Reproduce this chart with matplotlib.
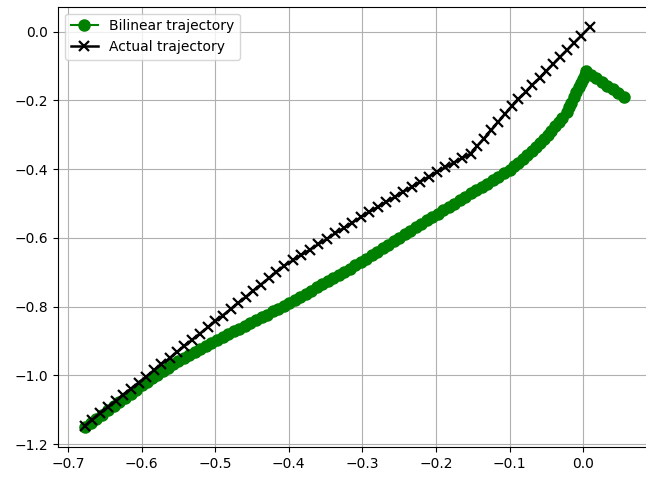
import matplotlib
matplotlib.use('Agg')
import matplotlib.pyplot as plt

# Trajectoire bilinéaire
bilinear_x = [
    -0.677, -0.669, -0.662, -0.654, -0.646, -0.638, -0.631, -0.623, -0.615, -0.608, -0.600,
    -0.593, -0.586, -0.579, -0.571, -0.564, -0.557, -0.550,
    -0.542, -0.535, -0.527, -0.520, -0.512, -0.505, -0.497, -0.490, -0.482, -0.475,
    -0.467, -0.460, -0.452, -0.445, -0.437, -0.430, -0.422, -0.415, -0.407, -0.400,
    -0.392, -0.385, -0.377, -0.370, -0.362, -0.355, -0.347, -0.340, -0.332, -0.325,
    -0.317, -0.310, -0.302, -0.295, -0.287, -0.280, -0.272, -0.265, -0.257, -0.250,
    -0.242, -0.235, -0.227, -0.220, -0.212, -0.205,
    -0.197, -0.190, -0.182, -0.175, -0.167, -0.160, -0.152, -0.145, -0.137, -0.130,
    -0.122, -0.115, -0.107, -0.100,
    -0.094, -0.088, -0.082, -0.076, -0.070, -0.064, -0.058,
    -0.053, -0.048, -0.043, -0.038, -0.033, -0.028, -0.022,
    -0.019, -0.016, -0.013, -0.010, -0.006,
    -0.003, 0.000, 0.002, 0.004,
    0.011, 0.018, 0.026, 0.033, 0.040, 0.048, 0.055,
]
bilinear_y = [
    -1.150, -1.138, -1.126, -1.115, -1.102, -1.089, -1.077, -1.065, -1.053, -1.041, -1.028,
    -1.018, -1.008, -0.998, -0.988, -0.978, -0.968, -0.958,
    -0.949, -0.941, -0.932, -0.924, -0.915, -0.906, -0.897, -0.889, -0.880, -0.872,
    -0.864, -0.856, -0.847, -0.839, -0.830, -0.823, -0.814, -0.806, -0.798, -0.790,
    -0.780, -0.772, -0.762, -0.753, -0.744, -0.735, -0.725, -0.717, -0.707, -0.698,
    -0.689, -0.680, -0.670, -0.661, -0.650, -0.641, -0.630, -0.621, -0.610, -0.600,
    -0.590, -0.580, -0.569, -0.560, -0.549, -0.540,
    -0.529, -0.520, -0.510, -0.500, -0.490, -0.481, -0.470, -0.461, -0.451, -0.442,
    -0.431, -0.422, -0.412, -0.403,
    -0.392, -0.381, -0.370, -0.358, -0.347, -0.336, -0.325,
    -0.313, -0.300, -0.288, -0.275, -0.262, -0.250, -0.234,
    -0.220, -0.206, -0.191, -0.176, -0.161,
    -0.148, -0.137, -0.126, -0.115,
    -0.126, -0.136, -0.147, -0.158, -0.168, -0.179, -0.190,
]

# Trajectoire réelle
actual_x = [
    -0.677, -0.667, -0.656, -0.646, -0.635, -0.625, -0.615, -0.604, -0.594, -0.583,
    -0.573, -0.562, -0.552, -0.542, -0.531, -0.521, -0.510, -0.500, -0.490, -0.479,
    -0.469, -0.458, -0.448, -0.438, -0.427, -0.417,
    -0.406, -0.394, -0.383, -0.371, -0.360, -0.348, -0.337, -0.325, -0.314, -0.302,
    -0.291, -0.279, -0.268, -0.256, -0.245, -0.233, -0.222, -0.210, -0.199, -0.187,
    -0.176, -0.164, -0.153,
    -0.144, -0.135, -0.125, -0.116, -0.106, -0.097, -0.088, -0.078, -0.069, -0.059,
    -0.050, -0.041, -0.031, -0.022, -0.013, -0.003, 0.0095,
]
actual_y = [
    -1.146, -1.129, -1.110, -1.093, -1.074, -1.057, -1.040, -1.021, -1.004, -0.985,
    -0.968, -0.950, -0.932, -0.915, -0.896, -0.879, -0.860, -0.843, -0.826, -0.807,
    -0.790, -0.771, -0.753, -0.736, -0.717, -0.700,
    -0.681, -0.665, -0.650, -0.634, -0.619, -0.603, -0.587, -0.571, -0.556, -0.540,
    -0.525, -0.510, -0.496, -0.481, -0.466, -0.452, -0.437, -0.422, -0.408, -0.395,
    -0.381, -0.368, -0.355,
    -0.333, -0.311, -0.287, -0.264, -0.239, -0.217, -0.197, -0.175, -0.155, -0.134,
    -0.115, -0.095, -0.073, -0.054, -0.034, -0.013, 0.0145,
]

fig = plt.figure(figsize=(6.46, 4.79), dpi=100)
# l'axe droit sort de l'image (figure rognée à droite)
ax = fig.add_axes([58 / 646, 32 / 479, 592.5 / 646, 440.3 / 479])

ax.plot(bilinear_x, bilinear_y, 'o-', color='green', markersize=8,
        label='Bilinear trajectory')
ax.plot(actual_x, actual_y, 'x-', color='black', linewidth=1.8,
        markersize=6.5, markeredgewidth=1.6, label='Actual trajectory')

ax.set_xlim(-0.7136, 0.0916)
ax.grid(True)
ax.legend(loc='upper left')

plt.savefig('out.png', dpi=100)
